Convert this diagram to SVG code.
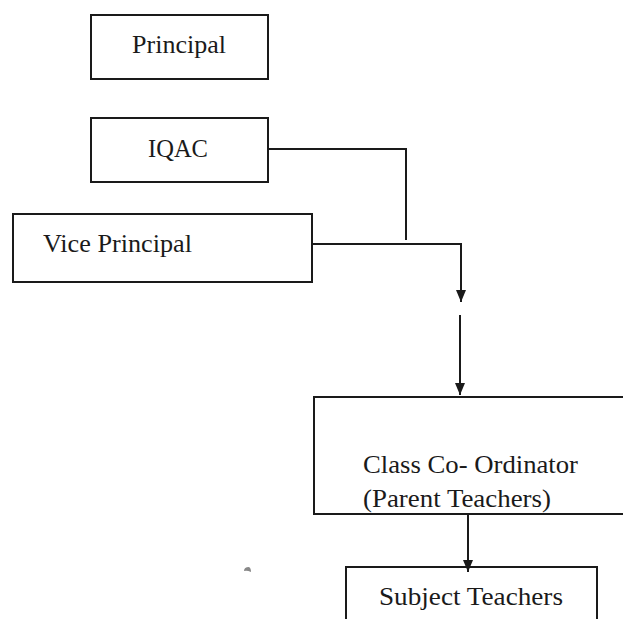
<svg xmlns="http://www.w3.org/2000/svg" width="623" height="619" viewBox="0 0 623 619">
<style>
.box{fill:#fff;stroke:#1a1a1a;stroke-width:2}
.t{font-family:"Liberation Serif","DejaVu Serif","Times New Roman",serif;font-size:25.5px;fill:#1a1a1a}
.c{fill:none;stroke:#1a1a1a;stroke-width:2}
</style>
<defs>
<marker id="ah" viewBox="0 0 12 10" refX="12" refY="5" markerWidth="12" markerHeight="10" markerUnits="userSpaceOnUse" orient="auto">
<path d="M0,0 L12,5 L0,10 Z" fill="#1a1a1a"/>
</marker>
</defs>
<rect width="623" height="619" fill="#fff"/>
<g id="principal"><rect class="box" x="91" y="15" width="177" height="64"/><text class="t" x="132" y="53" textLength="94" lengthAdjust="spacingAndGlyphs">Principal</text></g>
<g id="iqac"><rect class="box" x="91" y="118" width="177" height="64"/><text class="t" x="148" y="157" textLength="60" lengthAdjust="spacingAndGlyphs">IQAC</text></g>
<g id="vice-principal"><rect class="box" x="13" y="214" width="299" height="68"/><text class="t" x="43" y="252" textLength="149" lengthAdjust="spacingAndGlyphs">Vice Principal</text></g>
<g id="class-coordinator"><rect class="box" x="314" y="397" width="320" height="117"/><text class="t" x="363" y="473" textLength="215" lengthAdjust="spacingAndGlyphs">Class Co- Ordinator</text><text class="t" x="363" y="507" textLength="188" lengthAdjust="spacingAndGlyphs">(Parent Teachers)</text></g>
<g id="subject-teachers"><rect class="box" x="346" y="567" width="251" height="70"/><text class="t" x="379" y="605" textLength="184" lengthAdjust="spacingAndGlyphs">Subject Teachers</text></g>
<g id="connectors">
<path class="c" d="M268,149 H406 V240"/>
<path class="c" d="M312,244 H461 V302" marker-end="url(#ah)"/>
<path class="c" d="M460,315 V395" marker-end="url(#ah)"/>
<path class="c" d="M468,514 V572" marker-end="url(#ah)"/>
</g>
<path d="M249,567 q-5,0 -5,4 q3,-1 7,1 q0,-4 -2,-5z" fill="#888"/>
</svg>
